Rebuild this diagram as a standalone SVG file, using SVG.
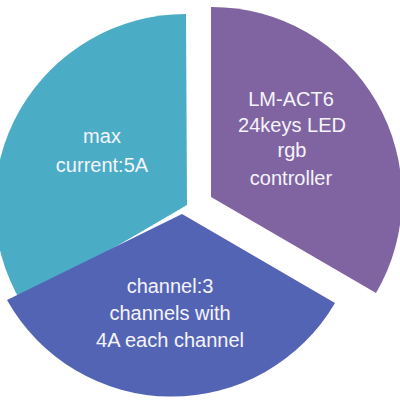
<svg xmlns="http://www.w3.org/2000/svg" width="400" height="400" viewBox="0 0 400 400">
<style>
.lbl{font-family:"Liberation Sans",Arial,sans-serif;font-size:20px;fill:#F4F4FA;text-anchor:middle}
</style>
<rect width="400" height="400" fill="#FFFFFF"/>
<g id="slice-current">
<path d="M187,205 L186,14 A191,191 0 0,0 21,302 Z" fill="#4BACC6"/>
<text class="lbl" x="102" y="143">max</text>
<text class="lbl" x="102" y="172">current:5A</text>
</g>
<g id="slice-controller">
<path d="M211,197 L211,7 A190,190 0 0,1 376,293 Z" fill="#8064A2"/>
<text class="lbl" x="291" y="106">LM-ACT6</text>
<text class="lbl" x="292" y="132">24keys LED</text>
<text class="lbl" x="292" y="157">rgb</text>
<text class="lbl" x="291" y="185">controller</text>
</g>
<g id="slice-channel">
<path d="M182,214 L335,303 A189,189 0 0,1 7,300 Z" fill="#5464B4"/>
<text class="lbl" x="170" y="293">channel:3</text>
<text class="lbl" x="170" y="320">channels with</text>
<text class="lbl" x="170" y="347">4A each channel</text>
</g>
<g id="connectors"/>
</svg>
